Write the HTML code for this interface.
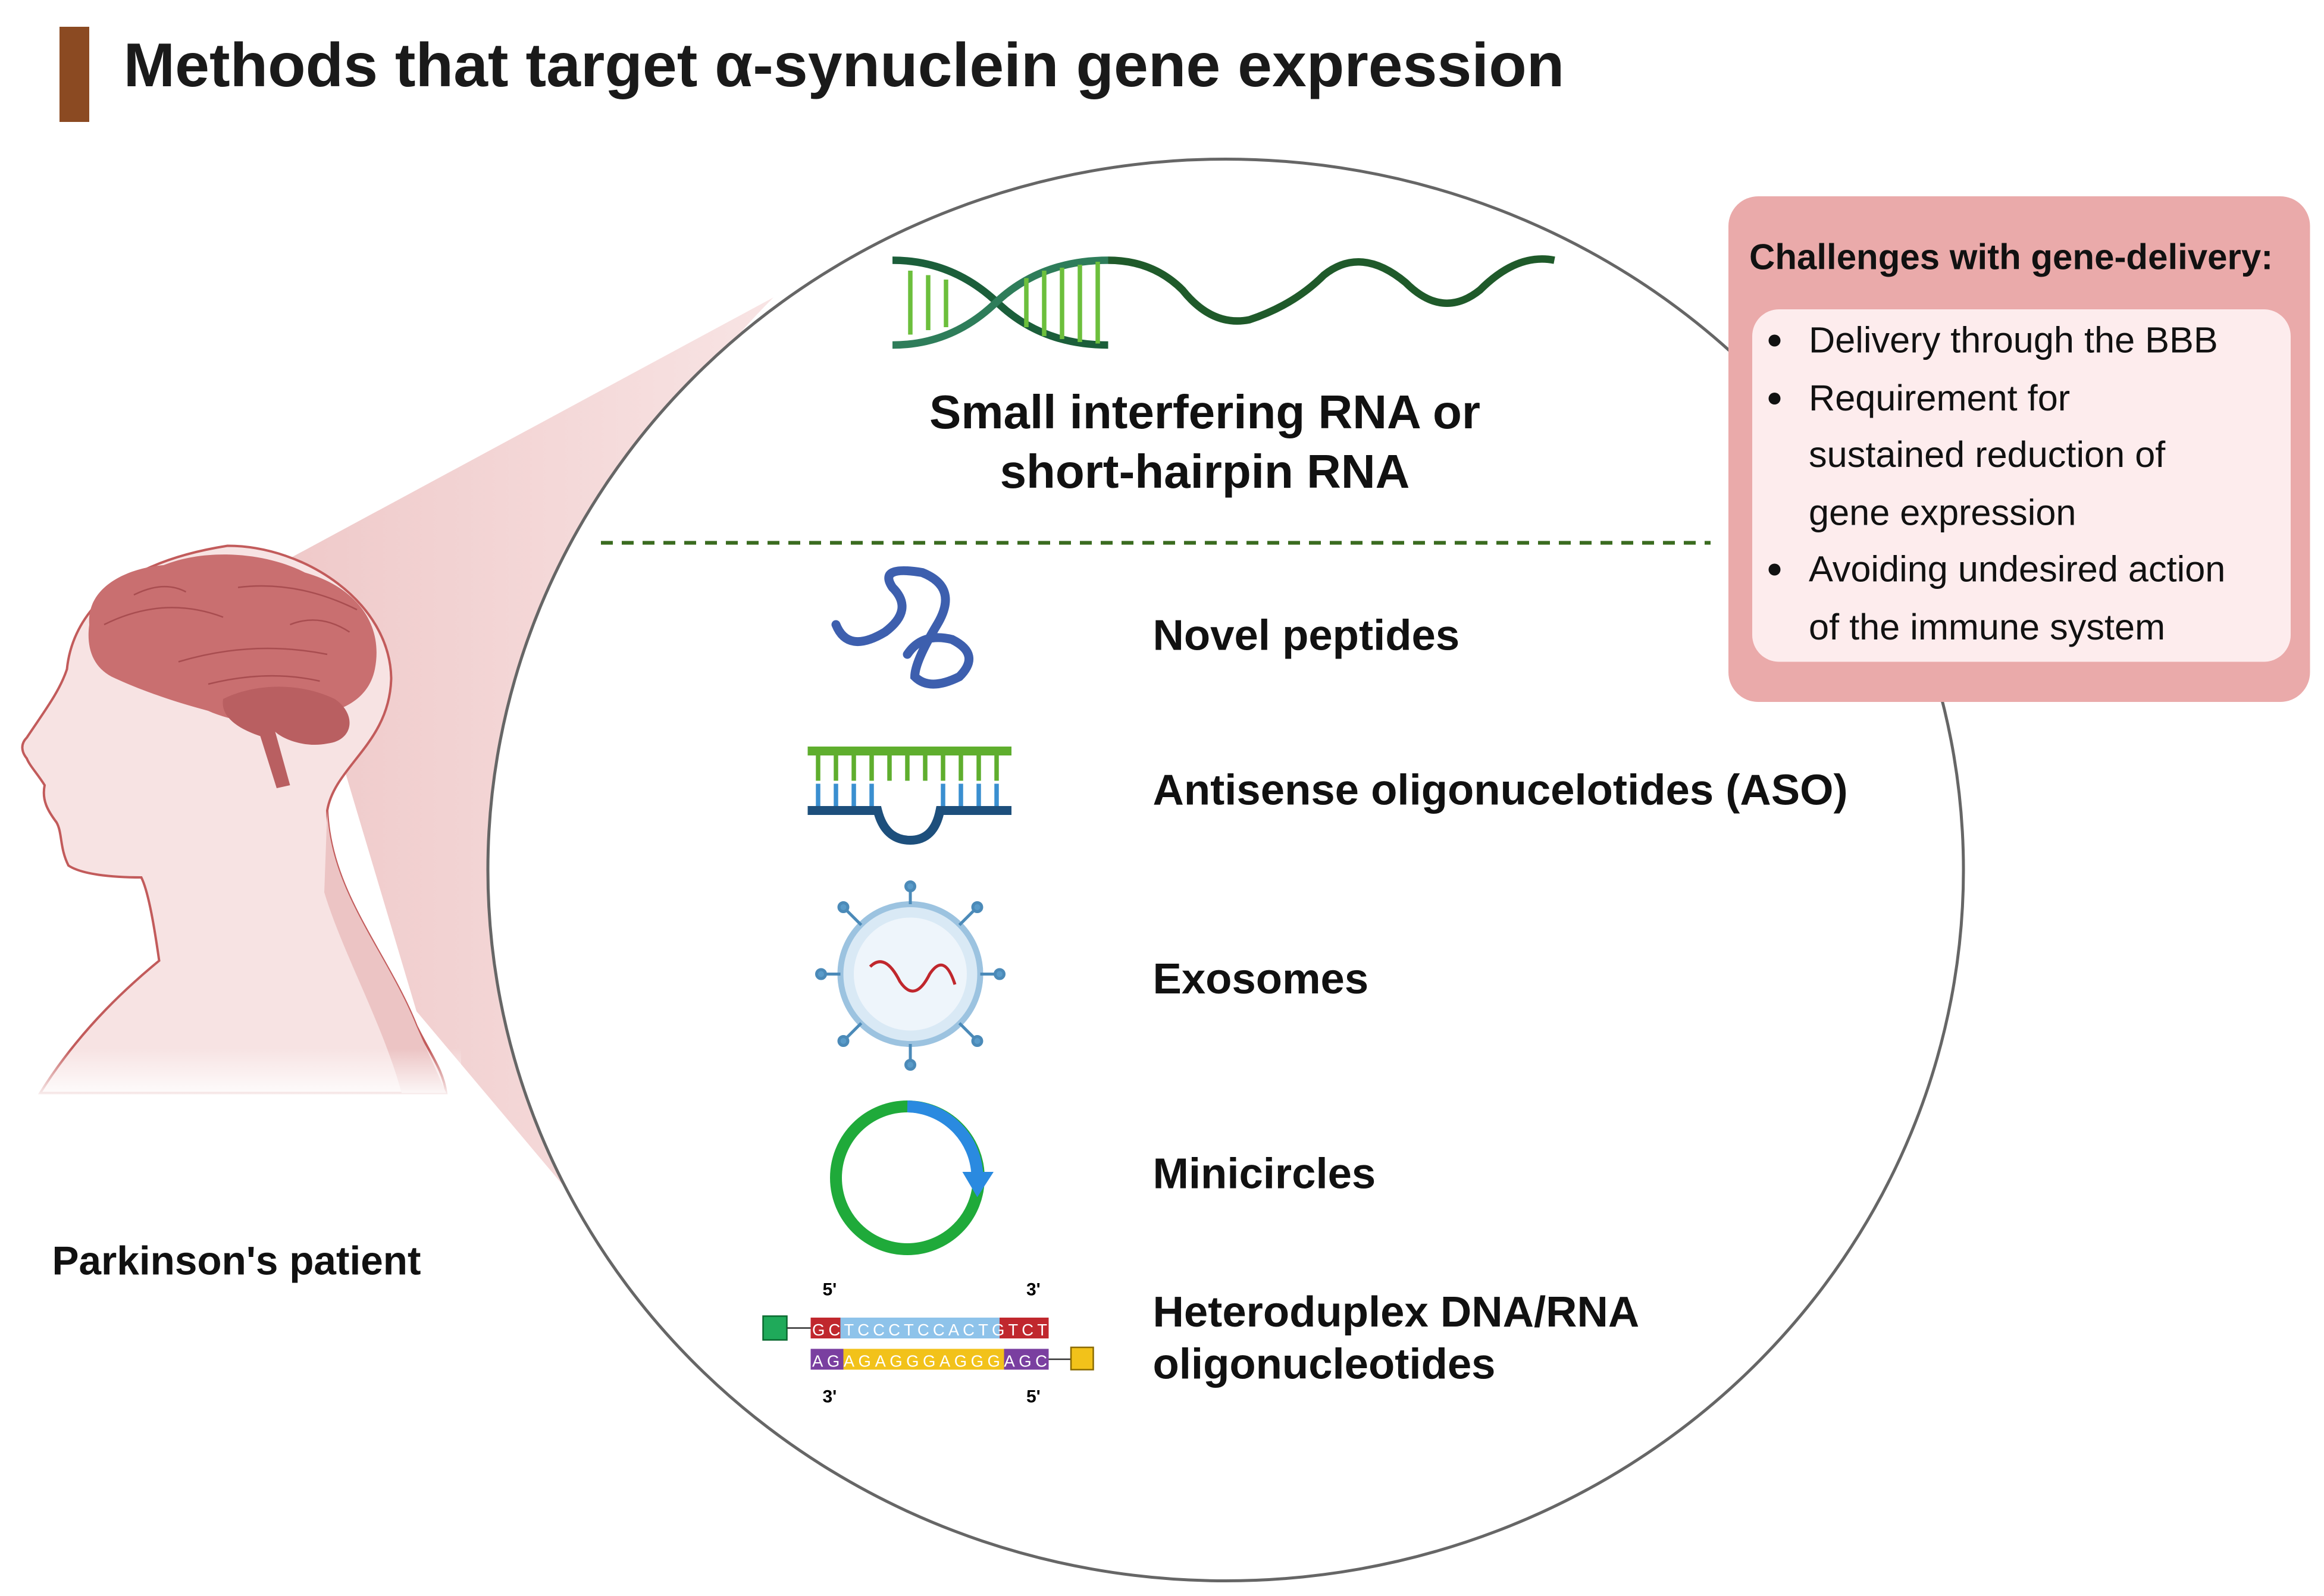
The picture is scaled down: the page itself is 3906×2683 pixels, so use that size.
<!DOCTYPE html>
<html><head><meta charset="utf-8"><style>
html,body{margin:0;padding:0;background:#fff}
svg{display:block}
text{font-family:"Liberation Sans",sans-serif}
</style></head><body>
<svg width="3906" height="2683" viewBox="0 0 1562.4 1073.2" xmlns="http://www.w3.org/2000/svg">
<defs>
<linearGradient id="cone" x1="0" y1="0" x2="1" y2="0">
<stop offset="0" stop-color="#efc9c9"/><stop offset="1" stop-color="#f8e4e4"/></linearGradient>
<linearGradient id="fade" x1="0" y1="0" x2="0" y2="1">
<stop offset="0" stop-color="#fff" stop-opacity="0"/><stop offset="1" stop-color="#fff" stop-opacity="1"/></linearGradient>
</defs>
<rect x="40" y="18" width="20" height="64" fill="#8b4a22"/>
<text x="83" y="58" font-size="41.6" font-weight="bold" fill="#1a1a1a">Methods that target α-synuclein gene expression</text>

<path d="M190,378 L520,200 Q400,320 360,520 Q350,720 440,870 L280,680 Z" fill="url(#cone)"/>

<path d="M153,367 C205,367 262,405 263,456 C262,500 225,515 220,545 C222,600 260,640 280,690 C290,710 298,720 300,735 L27,735 C55,690 90,660 107,646 C104,625 100,600 95,590 C75,590 55,588 46,582 C40,570 42,560 38,553 C32,545 28,538 30,528 C25,520 20,515 18,510 C14,505 14,500 18,496 C30,478 40,465 45,450 C48,420 70,380 153,367 Z" fill="#f7e3e3" stroke="#c25b5b" stroke-width="1.6"/>
<path d="M220,545 C222,600 260,640 280,690 L300,735 L270,735 C258,690 230,640 218,600 Z" fill="#ecc4c4"/>
<rect x="20" y="705" width="290" height="35" fill="url(#fade)"/>
<path d="M60,420 C58,395 85,382 110,380 C140,368 180,372 205,385 C240,395 258,420 252,450 C248,470 230,478 215,480 C190,490 160,487 140,478 C110,470 90,462 75,455 C62,448 58,435 60,420 Z" fill="#c96f70"/>
<path d="M150,470 C170,460 200,458 225,470 C240,480 238,498 220,500 C205,503 190,497 185,492 L195,528 L186,530 L175,495 C160,490 148,482 150,470 Z" fill="#b95f61"/>
<path d="M70,420 Q110,400 150,415 M120,445 Q170,430 220,440 M160,395 Q200,390 240,410 M90,400 Q110,390 125,398 M140,460 Q180,450 215,458 M195,420 Q215,412 235,425" stroke="#a84d50" stroke-width="1" fill="none"/>
<text x="35" y="857" font-size="27" font-weight="bold" fill="#111">Parkinson's patient</text>

<ellipse cx="824" cy="585" rx="496" ry="478" fill="#fff" stroke="#666" stroke-width="2"/>

<g fill="none" stroke-width="5">
<path d="M600,175 Q640,175 670,203 Q700,232 745,232" stroke="#1b5e3a"/>
<path d="M600,232 Q640,232 670,203 Q700,175 745,175" stroke="#2e7d5a"/>
<path d="M745,175 Q775,175 795,195 Q815,220 840,215 Q870,205 890,185 Q915,165 945,190 Q970,215 995,195 Q1020,170 1045,175" stroke="#1f5a2a"/>
</g>
<g stroke="#6cbf3c" stroke-width="3">
<line x1="612" y1="182" x2="612" y2="225"/><line x1="624" y1="185" x2="624" y2="222"/><line x1="636" y1="188" x2="636" y2="220"/>
<line x1="690" y1="187" x2="690" y2="220"/><line x1="702" y1="182" x2="702" y2="226"/><line x1="714" y1="180" x2="714" y2="228"/><line x1="726" y1="178" x2="726" y2="230"/><line x1="738" y1="176" x2="738" y2="231"/>
</g>
<text x="810" y="288" font-size="32" font-weight="bold" text-anchor="middle" fill="#111">Small interfering RNA or</text>
<text x="810" y="328" font-size="32" font-weight="bold" text-anchor="middle" fill="#111">short-hairpin RNA</text>
<line x1="404" y1="365" x2="1150" y2="365" stroke="#3a6b1f" stroke-width="2.5" stroke-dasharray="8,6"/>

<path d="M562,420 Q570,440 595,425 Q615,410 600,395 Q590,380 620,385 Q645,395 630,420 Q615,445 615,455 Q625,465 645,455 Q660,440 640,430 Q620,425 610,440" fill="none" stroke="#3d5fae" stroke-width="6" stroke-linecap="round"/>
<rect x="543" y="502" width="137" height="6" fill="#5fae2e"/>
<g stroke="#5fae2e" stroke-width="3">
<line x1="550" y1="508" x2="550" y2="525"/><line x1="562" y1="508" x2="562" y2="525"/><line x1="574" y1="508" x2="574" y2="525"/><line x1="586" y1="508" x2="586" y2="525"/><line x1="598" y1="508" x2="598" y2="525"/><line x1="610" y1="508" x2="610" y2="525"/><line x1="622" y1="508" x2="622" y2="525"/><line x1="634" y1="508" x2="634" y2="525"/><line x1="646" y1="508" x2="646" y2="525"/><line x1="658" y1="508" x2="658" y2="525"/><line x1="670" y1="508" x2="670" y2="525"/></g>
<g stroke="#3a8fd0" stroke-width="3"><line x1="550" y1="527" x2="550" y2="542"/><line x1="562" y1="527" x2="562" y2="542"/><line x1="574" y1="527" x2="574" y2="542"/><line x1="586" y1="527" x2="586" y2="542"/><line x1="634" y1="527" x2="634" y2="542"/><line x1="646" y1="527" x2="646" y2="542"/><line x1="658" y1="527" x2="658" y2="542"/><line x1="670" y1="527" x2="670" y2="542"/></g>
<path d="M543,545 L590,545 Q595,565 612,565 Q628,565 632,545 L680,545" fill="none" stroke="#1d4f7c" stroke-width="6"/>
<circle cx="612" cy="655" r="47" fill="#d9e9f5" stroke="#9cc3e0" stroke-width="4"/>
<circle cx="612" cy="655" r="38" fill="#eef5fb"/>
<path d="M585,650 Q595,640 605,660 Q615,675 625,655 Q635,640 642,662" fill="none" stroke="#c0272d" stroke-width="2"/>
<g stroke="#4b8ab8" stroke-width="2" fill="#5a9bc9">
<line x1="612" y1="608" x2="612" y2="598"/><circle cx="612" cy="596" r="3"/>
<line x1="645" y1="622" x2="655" y2="612"/><circle cx="657" cy="610" r="3"/>
<line x1="659" y1="655" x2="670" y2="655"/><circle cx="672" cy="655" r="3"/>
<line x1="645" y1="688" x2="655" y2="698"/><circle cx="657" cy="700" r="3"/>
<line x1="612" y1="702" x2="612" y2="714"/><circle cx="612" cy="716" r="3"/>
<line x1="579" y1="688" x2="569" y2="698"/><circle cx="567" cy="700" r="3"/>
<line x1="565" y1="655" x2="554" y2="655"/><circle cx="552" cy="655" r="3"/>
<line x1="579" y1="622" x2="569" y2="612"/><circle cx="567" cy="610" r="3"/>
</g>
<circle cx="610" cy="792" r="48" fill="none" stroke="#1faa3a" stroke-width="8"/>
<path d="M610,744 A48,48 0 0 1 657,790" fill="none" stroke="#2a8ae0" stroke-width="8"/>
<polygon points="647,788 668,788 657,805" fill="#2a8ae0"/>
<rect x="513" y="885" width="16" height="16" fill="#1faa5a" stroke="#0a6a30"/>
<line x1="529" y1="893" x2="545" y2="893" stroke="#333"/>
<rect x="545" y="886" width="160" height="14" fill="#8ec3ea"/>
<rect x="545" y="886" width="20" height="14" fill="#c0272d"/><rect x="672" y="886" width="33" height="14" fill="#c0272d"/>
<rect x="545" y="907" width="160" height="14" fill="#f2c21a"/>
<rect x="545" y="907" width="22" height="14" fill="#7a3fa0"/><rect x="675" y="907" width="30" height="14" fill="#7a3fa0"/>
<line x1="705" y1="914" x2="720" y2="914" stroke="#333"/>
<rect x="720" y="906" width="15" height="15" fill="#f2c21a" stroke="#8a6a00"/>
<text x="553" y="871" font-size="12" font-family="Liberation Serif" font-weight="bold">5'</text>
<text x="690" y="871" font-size="12" font-family="Liberation Serif" font-weight="bold">3'</text>
<text x="553" y="943" font-size="12" font-family="Liberation Serif" font-weight="bold">3'</text>
<text x="690" y="943" font-size="12" font-family="Liberation Serif" font-weight="bold">5'</text>
<text x="546" y="898" font-size="11" font-family="Liberation Serif" fill="#fff" textLength="158">GCTCCCTCCACTGTCT</text>
<text x="546" y="919" font-size="11" font-family="Liberation Serif" fill="#fff" textLength="158">AGAGAGGGAGGGAGC</text>

<g font-size="29" font-weight="bold" fill="#111">
<text x="775" y="437">Novel peptides</text>
<text x="775" y="541">Antisense oligonucelotides (ASO)</text>
<text x="775" y="668">Exosomes</text>
<text x="775" y="799">Minicircles</text>
<text x="775" y="892">Heteroduplex DNA/RNA</text>
<text x="775" y="927">oligonucleotides</text>
</g>

<rect x="1162" y="132" width="391" height="340" rx="20" fill="#eaaaaa"/>
<rect x="1178" y="208" width="362" height="237" rx="18" fill="#fdeced"/>
<text x="1176" y="181" font-size="24" font-weight="bold" fill="#111">Challenges with gene-delivery:</text>
<g font-size="24.5" fill="#111">
<circle cx="1193" cy="229" r="4"/><circle cx="1193" cy="268" r="4"/><circle cx="1193" cy="383" r="4"/>
<text x="1216" y="237">Delivery through the BBB</text>
<text x="1216" y="276">Requirement for</text>
<text x="1216" y="314">sustained reduction of</text>
<text x="1216" y="353">gene expression</text>
<text x="1216" y="391">Avoiding undesired action</text>
<text x="1216" y="430">of the immune system</text>
</g>
</svg>
</body></html>
